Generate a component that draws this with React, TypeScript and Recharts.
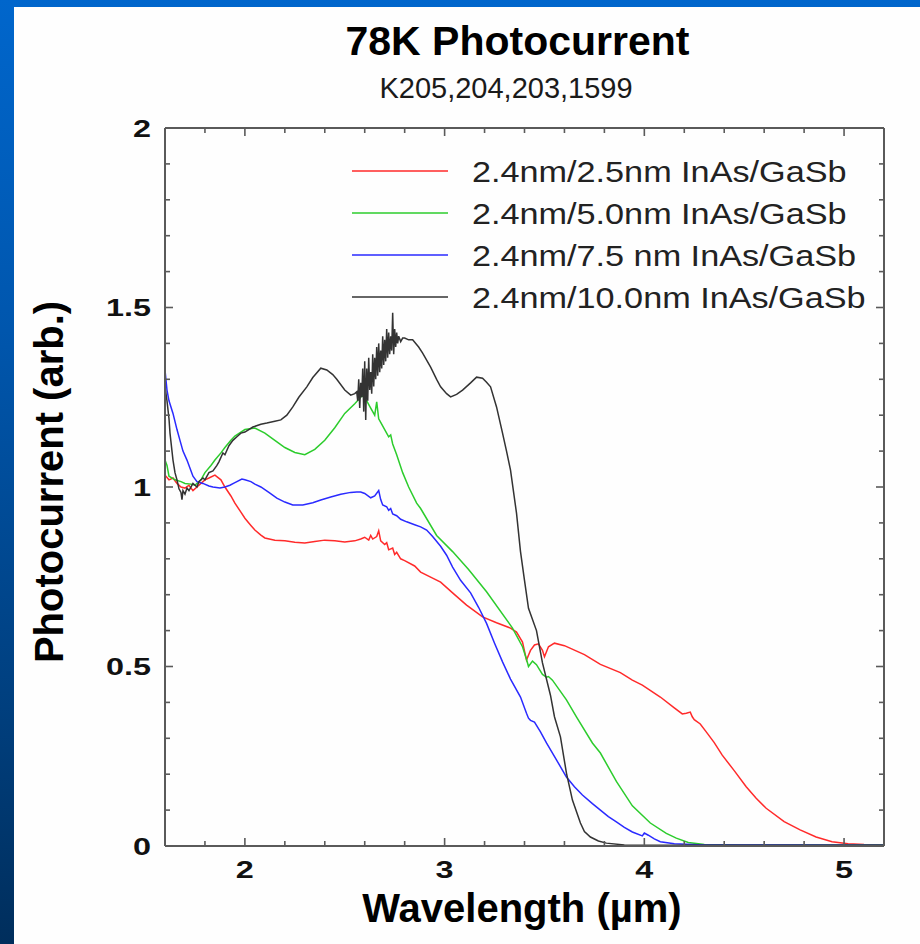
import React from "react";
import { LineChart, Line, XAxis, YAxis } from "recharts";

// ---- data (wavelength µm, photocurrent arb.) ----
const seriesNames = [
  "2.4nm/2.5nm InAs/GaSb",
  "2.4nm/5.0nm InAs/GaSb",
  "2.4nm/7.5 nm InAs/GaSb",
  "2.4nm/10.0nm InAs/GaSb",
];

const red25: [number, number][] = [
  [1.6, 1.033], [1.62, 1.02], [1.64, 1.025], [1.66, 1.01], [1.68, 1.0], [1.7, 0.997], [1.72, 1.005],
  [1.74, 0.99], [1.76, 1.0], [1.78, 1.01], [1.8, 1.02], [1.82, 1.025], [1.85, 1.033], [1.88, 1.02],
  [1.9, 1.0], [1.93, 0.975], [1.95, 0.955], [1.98, 0.93], [2.0, 0.913], [2.03, 0.893], [2.05, 0.88],
  [2.08, 0.866], [2.1, 0.858], [2.15, 0.852], [2.2, 0.85], [2.25, 0.846], [2.3, 0.844], [2.35, 0.848],
  [2.4, 0.852], [2.45, 0.85], [2.5, 0.847], [2.55, 0.85], [2.58, 0.855], [2.6, 0.86], [2.62, 0.852],
  [2.63, 0.865], [2.64, 0.855], [2.66, 0.862], [2.67, 0.878], [2.68, 0.85], [2.7, 0.84], [2.71, 0.845],
  [2.72, 0.825], [2.74, 0.83], [2.75, 0.812], [2.76, 0.818], [2.78, 0.8], [2.8, 0.795], [2.85, 0.78],
  [2.88, 0.763], [2.94, 0.746], [2.98, 0.735], [3.04, 0.705], [3.11, 0.671], [3.19, 0.638],
  [3.26, 0.622], [3.33, 0.607], [3.36, 0.596], [3.39, 0.568], [3.41, 0.518], [3.43, 0.545],
  [3.45, 0.56], [3.47, 0.563], [3.49, 0.545], [3.5, 0.527], [3.52, 0.555], [3.55, 0.565],
  [3.6, 0.558], [3.7, 0.533], [3.78, 0.506], [3.88, 0.483], [3.94, 0.462], [3.99, 0.448],
  [4.08, 0.415], [4.15, 0.385], [4.19, 0.368], [4.21, 0.37], [4.23, 0.373], [4.24, 0.36],
  [4.25, 0.352], [4.28, 0.34], [4.31, 0.318], [4.35, 0.288], [4.39, 0.253], [4.45, 0.21],
  [4.51, 0.165], [4.56, 0.133], [4.61, 0.105], [4.7, 0.068], [4.78, 0.045], [4.86, 0.025],
  [4.94, 0.012], [5.02, 0.006], [5.1, 0.004], [5.2, 0.003],
];

const green50: [number, number][] = [
  [1.6, 1.075], [1.61, 1.06], [1.62, 1.03], [1.65, 1.02], [1.68, 1.015], [1.7, 1.01], [1.73, 1.008],
  [1.75, 1.005], [1.78, 1.02], [1.8, 1.04], [1.83, 1.06], [1.85, 1.075], [1.88, 1.095], [1.9, 1.11],
  [1.93, 1.13], [1.95, 1.142], [1.98, 1.153], [2.0, 1.16], [2.05, 1.164], [2.1, 1.15], [2.15, 1.13],
  [2.2, 1.11], [2.25, 1.096], [2.3, 1.09], [2.35, 1.105], [2.4, 1.13], [2.45, 1.165], [2.5, 1.205],
  [2.55, 1.232], [2.59, 1.256], [2.61, 1.24], [2.63, 1.22], [2.65, 1.2], [2.66, 1.237], [2.67, 1.19],
  [2.68, 1.18], [2.7, 1.16], [2.72, 1.14], [2.73, 1.145], [2.74, 1.12], [2.76, 1.09], [2.79, 1.04],
  [2.82, 1.0], [2.86, 0.955], [2.88, 0.94], [2.96, 0.865], [3.04, 0.82], [3.12, 0.77], [3.21, 0.708],
  [3.34, 0.607], [3.39, 0.555], [3.41, 0.52], [3.42, 0.5], [3.44, 0.515], [3.46, 0.505], [3.49, 0.478],
  [3.51, 0.47], [3.52, 0.472], [3.54, 0.462], [3.61, 0.407], [3.66, 0.36], [3.74, 0.287],
  [3.78, 0.259], [3.86, 0.18], [3.94, 0.112], [4.03, 0.064], [4.11, 0.035], [4.16, 0.022],
  [4.22, 0.01], [4.3, 0.004], [4.5, 0.003], [4.8, 0.003], [5.2, 0.003],
];

const blue75: [number, number][] = [
  [1.6, 1.326], [1.61, 1.27], [1.62, 1.24], [1.64, 1.205], [1.66, 1.16], [1.675, 1.13], [1.69, 1.1],
  [1.71, 1.075], [1.74, 1.03], [1.76, 1.015], [1.79, 1.01], [1.82, 1.003], [1.84, 1.0], [1.875, 0.997],
  [1.9, 1.0], [1.925, 1.005], [1.95, 1.012], [1.985, 1.022], [2.0, 1.02], [2.03, 1.015], [2.05, 1.008],
  [2.08, 1.0], [2.12, 0.985], [2.16, 0.969], [2.2, 0.958], [2.24, 0.95], [2.29, 0.95], [2.34, 0.956],
  [2.38, 0.964], [2.43, 0.972], [2.48, 0.98], [2.53, 0.985], [2.56, 0.986], [2.58, 0.986],
  [2.6, 0.982], [2.63, 0.97], [2.65, 0.975], [2.67, 0.99], [2.68, 0.965], [2.69, 0.95], [2.71, 0.945],
  [2.72, 0.935], [2.73, 0.94], [2.74, 0.925], [2.76, 0.92], [2.78, 0.91], [2.81, 0.903], [2.85, 0.895],
  [2.88, 0.889], [2.91, 0.88], [2.94, 0.862], [2.98, 0.835], [3.01, 0.81], [3.04, 0.777], [3.08, 0.74],
  [3.13, 0.705], [3.17, 0.665], [3.21, 0.62], [3.25, 0.565], [3.29, 0.513], [3.33, 0.465],
  [3.38, 0.415], [3.41, 0.37], [3.42, 0.356], [3.43, 0.35], [3.45, 0.345], [3.48, 0.318],
  [3.51, 0.287], [3.56, 0.24], [3.61, 0.192], [3.65, 0.165], [3.69, 0.142], [3.74, 0.118],
  [3.78, 0.1], [3.82, 0.082], [3.86, 0.067], [3.9, 0.052], [3.94, 0.039], [3.99, 0.028],
  [4.0, 0.036], [4.02, 0.03], [4.05, 0.02], [4.08, 0.012], [4.15, 0.006], [4.3, 0.003],
  [4.7, 0.003], [5.2, 0.002],
];

const black100: [number, number][] = [
  [1.6, 1.28], [1.61, 1.24], [1.62, 1.19], [1.625, 1.15], [1.64, 1.075], [1.65, 1.04], [1.66, 1.02],
  [1.67, 0.995], [1.68, 0.985], [1.685, 0.965], [1.69, 0.99], [1.7, 0.98], [1.71, 0.997], [1.72, 0.99],
  [1.74, 1.01], [1.76, 1.0], [1.77, 1.015], [1.79, 1.025], [1.8, 1.02], [1.82, 1.04], [1.84, 1.045],
  [1.86, 1.06], [1.87, 1.07], [1.89, 1.095], [1.9, 1.09], [1.92, 1.115], [1.94, 1.13], [1.96, 1.14],
  [1.98, 1.15], [2.0, 1.153], [2.04, 1.167], [2.08, 1.175], [2.11, 1.178], [2.15, 1.183],
  [2.18, 1.187], [2.21, 1.2], [2.24, 1.223], [2.27, 1.25], [2.31, 1.279], [2.34, 1.305],
  [2.38, 1.331], [2.41, 1.326], [2.44, 1.313], [2.46, 1.3], [2.5, 1.27], [2.53, 1.256], [2.55, 1.26],
  [2.56, 1.265], [2.565, 1.24], [2.57, 1.3], [2.575, 1.22], [2.58, 1.29], [2.585, 1.25], [2.59, 1.33],
  [2.595, 1.21], [2.6, 1.35], [2.605, 1.187], [2.61, 1.33], [2.615, 1.24], [2.62, 1.36], [2.625, 1.27],
  [2.63, 1.32], [2.635, 1.26], [2.64, 1.37], [2.645, 1.28], [2.65, 1.36], [2.655, 1.3], [2.66, 1.39],
  [2.665, 1.31], [2.67, 1.4], [2.675, 1.32], [2.68, 1.38], [2.685, 1.33], [2.69, 1.42], [2.695, 1.34],
  [2.7, 1.41], [2.705, 1.35], [2.71, 1.44], [2.715, 1.36], [2.72, 1.43], [2.725, 1.37], [2.73, 1.42],
  [2.735, 1.38], [2.74, 1.485], [2.745, 1.37], [2.75, 1.44], [2.755, 1.39], [2.76, 1.43],
  [2.765, 1.4], [2.77, 1.42], [2.78, 1.405], [2.79, 1.415], [2.8, 1.415], [2.82, 1.41], [2.84, 1.41],
  [2.87, 1.39], [2.89, 1.373], [2.93, 1.334], [2.96, 1.3], [2.98, 1.279], [3.01, 1.26], [3.03, 1.251],
  [3.06, 1.258], [3.09, 1.27], [3.13, 1.29], [3.16, 1.306], [3.19, 1.303], [3.21, 1.292],
  [3.23, 1.279], [3.26, 1.223], [3.29, 1.15], [3.31, 1.1], [3.33, 1.047], [3.36, 0.927], [3.38, 0.82],
  [3.4, 0.74], [3.42, 0.662], [3.46, 0.6], [3.49, 0.51], [3.53, 0.42], [3.55, 0.36], [3.58, 0.304],
  [3.61, 0.203], [3.64, 0.128], [3.68, 0.064], [3.7, 0.04], [3.73, 0.025], [3.77, 0.014],
  [3.81, 0.008], [3.9, 0.003], [4.0, 0.002], [5.2, 0.002],
];

const xTicks = [1.8, 2.0, 2.2, 2.4, 2.6, 2.8, 3.0, 3.2, 3.4, 3.6, 3.8, 4.0, 4.2, 4.4, 4.6, 4.8, 5.0];
const xLabels = [2, 3, 4, 5];
const yTicks = [0, 0.1, 0.2, 0.3, 0.4, 0.5, 0.6, 0.7, 0.8, 0.9, 1.0, 1.1, 1.2, 1.3, 1.4, 1.5, 1.6, 1.7, 1.8, 1.9, 2.0];
const yLabels = [0, 0.5, 1, 1.5, 2];

const colors = ["#ff2a2a", "#2ccc2c", "#2a2aff", "#333333"];
const allSeries = [red25, green50, blue75, black100];

const FONT = "'Liberation Sans', Arial, Helvetica, sans-serif";
const AXIS = "#5a5a5a";

const toRows = (s: [number, number][]) => s.map(([x, y]) => ({ x, y }));

const isLabel = (v: number, list: number[]) => list.some((l) => Math.abs(l - v) < 1e-6);

const BottomTick = (p: any) => {
  const { x, y, payload } = p;
  const v = payload.value;
  const major = isLabel(v, xLabels);
  const ty = y + 32;
  return (
    <g>
      <line x1={x} x2={x} y1={y} y2={y - (major ? 8 : 5)} stroke={AXIS} strokeWidth={1.6} />
      {major && (
        <text
          x={x}
          y={ty}
          textAnchor="middle"
          fontFamily={FONT}
          fontWeight="bold"
          fontSize={24}
          fill="#111"
          transform={`translate(${x} ${ty}) scale(1.35 1) translate(${-x} ${-ty})`}
        >
          {String(v)}
        </text>
      )}
    </g>
  );
};

const TopTick = (p: any) => {
  const { x, y, payload } = p;
  const major = isLabel(payload.value, xLabels);
  return <line x1={x} x2={x} y1={y} y2={y + (major ? 8 : 5)} stroke={AXIS} strokeWidth={1.6} />;
};

const LeftTick = (p: any) => {
  const { x, y, payload } = p;
  const v = payload.value;
  const major = isLabel(v, yLabels);
  const tx = x - 14;
  const ty = y + 9;
  return (
    <g>
      <line x1={x} x2={x + (major ? 8 : 5)} y1={y} y2={y} stroke={AXIS} strokeWidth={1.6} />
      {major && (
        <text
          x={tx}
          y={ty}
          textAnchor="end"
          fontFamily={FONT}
          fontWeight="bold"
          fontSize={24}
          fill="#111"
          transform={`translate(${tx} ${ty}) scale(1.35 1) translate(${-tx} ${-ty})`}
        >
          {String(v)}
        </text>
      )}
    </g>
  );
};

const RightTick = (p: any) => {
  const { x, y, payload } = p;
  const major = isLabel(payload.value, yLabels);
  return <line x1={x} x2={x - (major ? 8 : 5)} y1={y} y2={y} stroke={AXIS} strokeWidth={1.6} />;
};

export default function App() {
  const axisLine = { stroke: AXIS, strokeWidth: 2 };
  return (
    <div
      style={{
        position: "absolute",
        left: 0,
        top: 0,
        width: 920,
        height: 944,
        background: "linear-gradient(to bottom, #0066cc 0%, #0056ad 35%, #003f7e 75%, #002e5c 100%)",
        overflow: "hidden",
      }}
    >
      <div style={{ position: "absolute", left: 14, top: 7, width: 906, height: 937, background: "#fefefe" }}>
        <LineChart width={906} height={937} margin={{ top: 120, right: 35, bottom: 0, left: 0 }}>
          <XAxis
            xAxisId="b"
            dataKey="x"
            type="number"
            domain={[1.6, 5.2]}
            allowDataOverflow
            ticks={xTicks}
            interval={0}
            orientation="bottom"
            height={98}
            tickSize={0}
            tickMargin={0}
            tickLine={false}
            axisLine={axisLine}
            tick={<BottomTick />}
          />
          <XAxis
            xAxisId="t"
            dataKey="x"
            type="number"
            domain={[1.6, 5.2]}
            allowDataOverflow
            ticks={xTicks}
            interval={0}
            orientation="top"
            height={1}
            tickSize={0}
            tickMargin={0}
            tickLine={false}
            axisLine={axisLine}
            tick={<TopTick />}
          />
          <YAxis
            yAxisId="l"
            type="number"
            domain={[0, 2]}
            allowDataOverflow
            ticks={yTicks}
            interval={0}
            orientation="left"
            width={151}
            tickSize={0}
            tickMargin={0}
            tickLine={false}
            axisLine={axisLine}
            tick={<LeftTick />}
          />
          <YAxis
            yAxisId="r"
            type="number"
            domain={[0, 2]}
            allowDataOverflow
            ticks={yTicks}
            interval={0}
            orientation="right"
            width={1}
            tickSize={0}
            tickMargin={0}
            tickLine={false}
            axisLine={axisLine}
            tick={<RightTick />}
          />
          {allSeries.map((s, i) => (
            <Line
              key={seriesNames[i]}
              name={seriesNames[i]}
              xAxisId="b"
              yAxisId="l"
              data={toRows(s)}
              dataKey="y"
              type="linear"
              stroke={colors[i]}
              strokeWidth={1.5}
              dot={false}
              activeDot={false}
              isAnimationActive={false}
            />
          ))}
        </LineChart>
      </div>
      <svg
        width={920}
        height={944}
        style={{ position: "absolute", left: 0, top: 0, pointerEvents: "none" }}
        fontFamily={FONT}
      >
        <text x={517.5} y={55} textAnchor="middle" fontWeight="bold" fontSize={41} fill="#000">
          78K Photocurrent
        </text>
        <text x={506} y={98} textAnchor="middle" fontSize={29} fill="#1a1a1a">
          K205,204,203,1599
        </text>
        {seriesNames.map((n, i) => {
          const ly = 171 + i * 42;
          const tx = 472;
          const ty = ly + 11;
          return (
            <g key={n}>
              <line x1={352} x2={448} y1={ly} y2={ly} stroke={colors[i]} strokeWidth={1.5} />
              <text
                x={tx}
                y={ty}
                fontSize={29}
                fill="#222"
                transform={`translate(${tx} ${ty}) scale(1.18 1) translate(${-tx} ${-ty})`}
              >
                {n}
              </text>
            </g>
          );
        })}
        <text x={522} y={922} textAnchor="middle" fontWeight="bold" fontSize={40} fill="#000">
          Wavelength (µm)
        </text>
        <text
          x={63}
          y={482}
          textAnchor="middle"
          fontWeight="bold"
          fontSize={40}
          fill="#000"
          transform="rotate(-90 63 482)"
        >
          Photocurrent (arb.)
        </text>
      </svg>
    </div>
  );
}
